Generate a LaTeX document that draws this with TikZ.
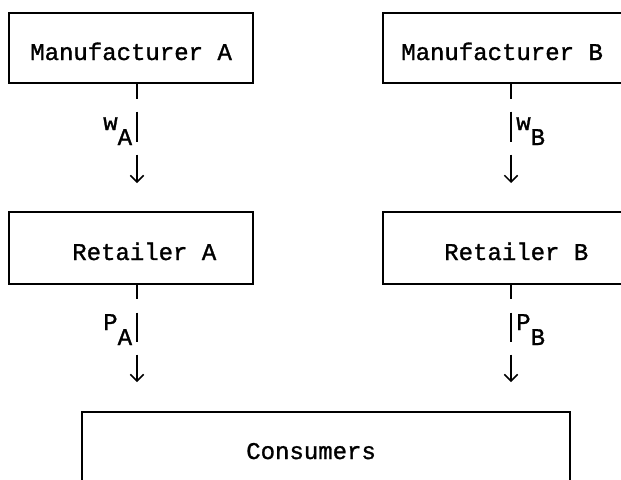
\documentclass[tikz,border=0pt]{standalone}
\usepackage{fontspec}
\setmainfont[FakeBold=1.2,AutoFakeBold=1.2]{Liberation Mono}
\usetikzlibrary{arrows.meta,calc}
\begin{document}
\begin{tikzpicture}[x=0.75pt,y=-0.75pt,
  box/.style={draw,line width=1.3pt,rectangle,inner sep=0pt,anchor=north west},
  txt/.style={anchor=base west,inner sep=0pt,font=\fontsize{18}{20}\selectfont\bfseries},
  conn/.style={line width=1.1pt},
  arr/.style={line width=1.1pt,-{Straight Barb[length=5pt,width=10pt,line width=1.1pt]}}]
\useasboundingbox (0,0) rectangle (621,479);
\clip (0,0) rectangle (621,479);
% boxes
\node[box,minimum width=183pt,minimum height=52.5pt] (mA) at (8,12) {};
\node[box,minimum width=193.5pt,minimum height=52.5pt] (mB) at (382,12) {};
\node[box,minimum width=183pt,minimum height=54pt] (rA) at (8,211) {};
\node[box,minimum width=193.5pt,minimum height=54pt] (rB) at (382,211) {};
\node[box,minimum width=366pt,minimum height=66.75pt] (cons) at (81,411) {};
% texts
\node[txt] (tmA) at (30,60) {Manufacturer A};
\node[txt] (tmB) at (401,60) {Manufacturer B};
\node[txt] (trA) at (72,260) {Retailer A};
\node[txt] (trB) at (444,260) {Retailer B};
\node[txt] (tc) at (246,459) {Consumers};
% labels
\node[txt] (wA) at (103,130) {w\raisebox{-11.25pt}{A}};
\node[txt] (wB) at (516,130) {w\raisebox{-11.25pt}{B}};
\node[txt] (pA) at (103,330) {P\raisebox{-11.25pt}{A}};
\node[txt] (pB) at (516,330) {P\raisebox{-11.25pt}{B}};
% connectors
\coordinate (xA) at (137,0);
\coordinate (xB) at (511,0);
\foreach \x/\top/\bot in {xA/mA/rA, xB/mB/rB} {
  \draw[conn] (\top.south -| \x) -- ++(0,15);
  \draw[conn] ($(\top.south -| \x)+(0,28)$) -- ++(0,30);
  \draw[arr] ($(\top.south -| \x)+(0,71)$) -- ($(\bot.north -| \x)+(0,-28)$);
}
\foreach \x/\top in {xA/rA, xB/rB} {
  \draw[conn] (\top.south -| \x) -- ++(0,14);
  \draw[conn] ($(\top.south -| \x)+(0,28)$) -- ++(0,29);
  \draw[arr] ($(\top.south -| \x)+(0,70)$) -- ($(cons.north -| \x)+(0,-29)$);
}
\end{tikzpicture}
\end{document}
